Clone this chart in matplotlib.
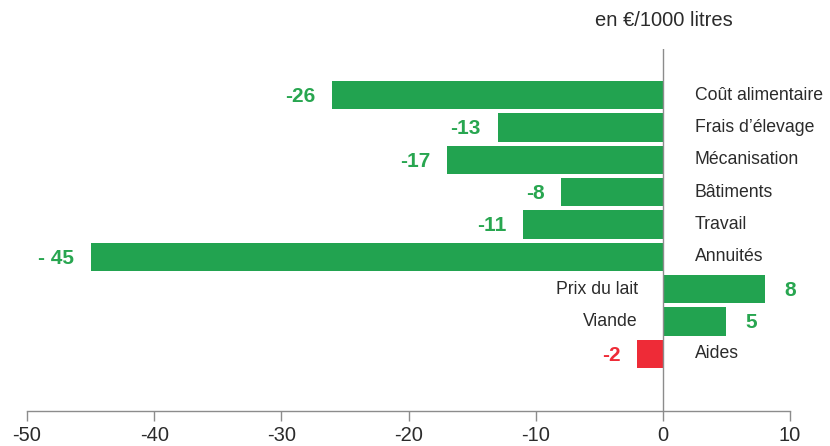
import numpy as np
import matplotlib
matplotlib.use("Agg")
import matplotlib.pyplot as plt

# ------------------------------------------------------------
# Daten (en €/1000 litres)
# ------------------------------------------------------------
categories = ["Coût alimentaire", "Frais d’élevage", "Mécanisation", "Bâtiments",
              "Travail", "Annuités", "Prix du lait", "Viande", "Aides"]
values = [-26, -13, -17, -8, -11, -45, 8, 5, -2]
value_labels = ["-26", "-13", "-17", "-8", "-11", "- 45", "8", "5", "-2"]
xticks = [-50, -40, -30, -20, -10, 0, 10]
xtick_labels = ["-50", "-40", "-30", "-20", "-10", "0", "10"]
unit_label = "en €/1000 litres"

GREEN = "#22a350"
GREEN_TXT = "#28a650"
RED = "#ee2b37"
GREY = "#8c8c8c"
TXT = "#2b2b2b"

plt.rcParams["font.family"] = ["Liberation Sans", "DejaVu Sans"]

fig = plt.figure(figsize=(8.30, 4.46), dpi=100)
ax = fig.add_axes([27 / 830, 1 - 411 / 446, (790 - 27) / 830, (411 - 49) / 446])

y = np.arange(len(categories))
colors = [RED if c == "Aides" else GREEN for c in categories]
ax.barh(y, values, height=0.876, color=colors, zorder=2)

ax.axvline(0, color=GREY, lw=1.0, zorder=3)

ax.set_xlim(-50, 10)
ax.set_ylim(9.77, -1.43)

for s in ["top", "right", "left"]:
    ax.spines[s].set_visible(False)
ax.spines["bottom"].set_color(GREY)
ax.spines["bottom"].set_linewidth(1.0)
ax.set_yticks([])
ax.set_xticks(xticks)
ax.set_xticklabels(xtick_labels, fontsize=14.5, color=TXT)
ax.tick_params(axis="x", length=7, width=1.0, color=GREY, pad=4)

for i, (cat, v, lab) in enumerate(zip(categories, values, value_labels)):
    col = RED if cat == "Aides" else GREEN_TXT
    # Wert an der Balkenspitze
    if v < 0:
        ax.annotate(lab, xy=(v, i), xytext=(-12, -1), textcoords="offset points",
                    ha="right", va="center", fontsize=15, fontweight="bold",
                    color=col)
        ax.annotate(cat, xy=(0, i), xytext=(23, 0), textcoords="offset points",
                    ha="left", va="center", fontsize=12.7, color=TXT)
    else:
        ax.annotate(lab, xy=(v, i), xytext=(14, -1), textcoords="offset points",
                    ha="left", va="center", fontsize=15, fontweight="bold",
                    color=col)
        ax.annotate(cat, xy=(0, i), xytext=(-18, 0), textcoords="offset points",
                    ha="right", va="center", fontsize=12.7, color=TXT)

fig.text(664 / 830, 1 - 20 / 446, unit_label, ha="center", va="center",
         fontsize=14.5, color=TXT)

fig.savefig("out.png", dpi=100)
